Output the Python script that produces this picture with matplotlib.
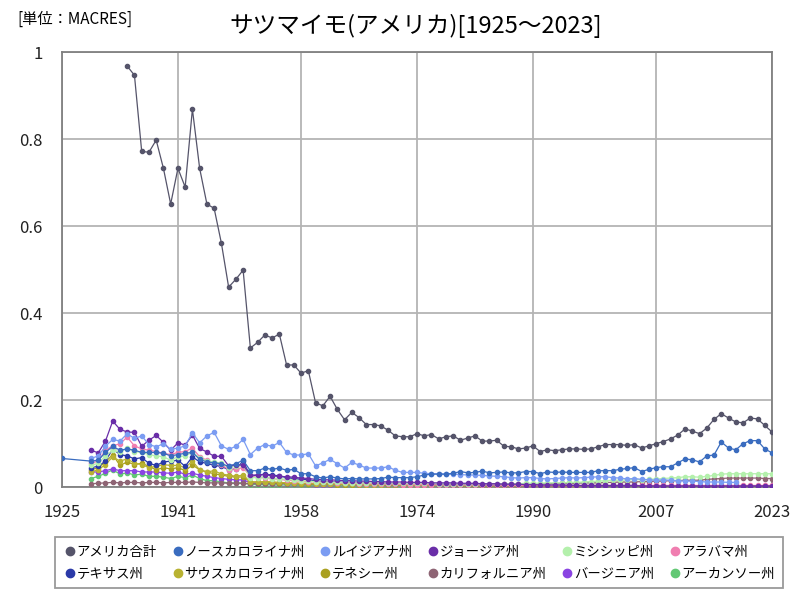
import numpy as np
import matplotlib
matplotlib.use("Agg")
import matplotlib.pyplot as plt
from matplotlib.lines import Line2D

plt.rcParams['font.family'] = ['Noto Sans CJK JP', 'DejaVu Sans']

N = None
years = list(range(1925, 2024))

total = [N, N, N, N, N,
         N, N, N, N, 0.968, 0.947, 0.772, 0.770, 0.798, 0.733,
         0.651, 0.733, 0.690, 0.869, 0.733, 0.651, 0.641, 0.561, 0.460, 0.478,
         0.499, 0.320, 0.333, 0.350, 0.343, 0.352, 0.281, 0.281, 0.262, 0.268,
         0.194, 0.187, 0.209, 0.179, 0.155, 0.172, 0.160, 0.144, 0.144, 0.141,
         0.131, 0.118, 0.116, 0.116, 0.123, 0.118, 0.121, 0.111, 0.116, 0.118,
         0.108, 0.113, 0.118, 0.106, 0.106, 0.108, 0.094, 0.093, 0.088, 0.090,
         0.095, 0.082, 0.086, 0.084, 0.086, 0.088, 0.088, 0.087, 0.088, 0.093,
         0.098, 0.098, 0.098, 0.096, 0.098, 0.090, 0.095, 0.100, 0.105, 0.111,
         0.120, 0.134, 0.129, 0.123, 0.136, 0.156, 0.169, 0.159, 0.150, 0.148,
         0.159, 0.157, 0.142, 0.127]

north_carolina = [0.066, N, N, N, 0.060,
                  0.062, 0.080, 0.094, 0.085, 0.088, 0.085, 0.080, 0.080, 0.080, 0.078,
                  0.072, 0.075, 0.078, 0.080, 0.064, 0.058, 0.056, 0.054, 0.048, 0.054,
                  0.062, 0.038, 0.038, 0.044, 0.041, 0.044, 0.039, 0.041, 0.031, 0.031,
                  0.024, 0.021, 0.024, 0.021, 0.019, 0.020, 0.019, 0.019, 0.019, 0.020,
                  0.023, 0.022, 0.022, 0.022, 0.024, 0.028, 0.030, 0.030, 0.030, 0.032,
                  0.036, 0.033, 0.034, 0.037, 0.033, 0.034, 0.035, 0.033, 0.033, 0.036,
                  0.036, 0.031, 0.035, 0.034, 0.035, 0.034, 0.034, 0.034, 0.034, 0.038,
                  0.038, 0.038, 0.041, 0.043, 0.045, 0.036, 0.041, 0.045, 0.047, 0.047,
                  0.056, 0.065, 0.063, 0.058, 0.072, 0.074, 0.104, 0.090, 0.086, 0.100,
                  0.107, 0.107, 0.088, 0.079]

louisiana = [N, N, N, N, 0.066,
             0.072, 0.094, 0.110, 0.106, 0.123, 0.112, 0.118, 0.098, 0.093, 0.100,
             0.087, 0.090, 0.095, 0.125, 0.102, 0.118, 0.126, 0.095, 0.087, 0.094,
             0.110, 0.075, 0.090, 0.098, 0.094, 0.103, 0.080, 0.074, 0.074, 0.077,
             0.049, 0.056, 0.064, 0.054, 0.044, 0.057, 0.051, 0.044, 0.044, 0.044,
             0.047, 0.039, 0.034, 0.034, 0.034, 0.032, 0.031, 0.031, 0.030, 0.030,
             0.029, 0.028, 0.028, 0.027, 0.026, 0.025, 0.024, 0.022, 0.021, 0.022,
             0.022, 0.020, 0.019, 0.020, 0.021, 0.022, 0.021, 0.022, 0.023, 0.024,
             0.024, 0.022, 0.021, 0.019, 0.020, 0.018, 0.017, 0.016, 0.017, 0.016,
             0.015, 0.014, 0.014, 0.013, 0.012, 0.012, 0.012, 0.011, 0.011, N,
             N, N, N, N]

georgia = [N, N, N, N, 0.085,
           0.079, 0.106, 0.152, 0.133, 0.127, 0.126, 0.094, 0.108, 0.119, 0.103,
           0.085, 0.102, 0.097, 0.120, 0.089, 0.081, 0.071, 0.071, 0.049, 0.051,
           0.051, 0.028, 0.028, 0.029, 0.026, 0.025, 0.024, 0.023, 0.021, 0.020,
           0.018, 0.017, 0.017, 0.016, 0.015, 0.015, 0.014, 0.014, 0.013, 0.013,
           0.012, 0.012, 0.012, 0.011, 0.011, 0.011, 0.010, 0.010, 0.010, 0.010,
           0.009, 0.009, 0.009, 0.008, 0.008, 0.008, 0.007, 0.007, 0.007, 0.006,
           0.006, 0.005, 0.005, 0.005, 0.005, 0.004, 0.004, 0.004, 0.004, 0.004,
           0.004, 0.004, 0.004, 0.004, 0.004, 0.003, 0.003, 0.003, 0.003, 0.003,
           0.003, 0.003, 0.003, 0.003, 0.003, 0.003, 0.003, 0.003, 0.003, 0.003,
           0.003, 0.003, 0.003, 0.003]

mississippi = [N, N, N, N, 0.050,
               0.055, 0.072, 0.085, 0.080, 0.090, 0.082, 0.080, 0.075, 0.072, 0.070,
               0.062, 0.070, 0.072, 0.080, 0.068, 0.060, 0.058, 0.055, 0.045, 0.048,
               0.050, 0.022, 0.022, 0.024, 0.020, 0.020, 0.018, 0.017, 0.015, 0.015,
               0.012, 0.012, 0.012, 0.011, 0.010, 0.010, 0.010, 0.010, 0.010, 0.010,
               0.010, 0.009, 0.009, 0.009, 0.009, 0.009, 0.009, 0.008, 0.008, 0.008,
               0.008, 0.008, 0.008, 0.008, 0.008, 0.008, 0.008, 0.008, 0.008, 0.009,
               0.009, 0.009, 0.010, 0.010, 0.010, 0.011, 0.011, 0.012, 0.013, 0.014,
               0.015, 0.016, 0.016, 0.017, 0.018, 0.017, 0.018, 0.019, 0.020, 0.021,
               0.022, 0.024, 0.024, 0.023, 0.025, 0.027, 0.030, 0.031, 0.031, 0.031,
               0.031, 0.031, 0.031, 0.031]

alabama = [N, N, N, N, 0.055,
           0.060, 0.085, 0.095, 0.100, 0.115, 0.095, 0.088, 0.085, 0.082, 0.078,
           0.075, 0.080, 0.082, 0.090, 0.070, 0.062, 0.055, 0.052, 0.040, 0.042,
           0.045, 0.025, 0.022, 0.022, 0.020, 0.018, 0.016, 0.015, 0.014, 0.013,
           0.012, 0.011, 0.011, 0.010, 0.009, 0.009, 0.008, 0.008, 0.008, 0.007,
           0.007, 0.007, 0.006, 0.006, 0.006, 0.006, 0.006, 0.005, 0.005, 0.005,
           0.005, 0.005, 0.005, 0.005, 0.005, 0.005, 0.004, 0.004, 0.004, 0.004,
           0.004, 0.004, 0.004, 0.004, 0.004, 0.004, 0.004, 0.004, 0.004, 0.004,
           0.004, 0.004, 0.004, 0.004, 0.004, 0.004, 0.004, 0.004, 0.004, 0.004,
           0.004, 0.004, 0.004, 0.004, 0.004, 0.004, 0.004, 0.004, 0.004, 0.004,
           0.004, 0.004, 0.004, 0.004]

texas = [N, N, N, N, 0.045,
         0.048, 0.060, 0.088, 0.075, 0.072, 0.065, 0.068, 0.055, 0.050, 0.058,
         0.060, 0.062, 0.048, 0.070, 0.058, 0.055, 0.050, 0.048, 0.040, 0.042,
         0.060, 0.025, 0.028, 0.030, 0.028, 0.026, 0.022, 0.020, 0.018, 0.017,
         0.014, 0.013, 0.013, 0.012, 0.011, 0.011, 0.010, 0.010, 0.009, 0.009,
         0.008, 0.008, 0.008, 0.007, 0.007, 0.007, 0.007, 0.006, 0.006, 0.006,
         0.006, 0.006, 0.006, 0.005, 0.005, 0.005, 0.005, 0.005, 0.004, 0.004,
         0.004, 0.004, 0.004, 0.004, 0.004, 0.004, 0.004, 0.003, 0.003, 0.003,
         0.003, 0.003, 0.003, 0.003, 0.003, 0.003, 0.003, 0.003, 0.003, 0.003,
         0.003, 0.003, 0.003, 0.003, 0.003, 0.003, 0.003, 0.003, 0.003, 0.003,
         0.003, 0.003, 0.003, 0.003]

south_carolina = [N, N, N, N, 0.035,
                  0.040, 0.052, 0.070, 0.060, 0.065, 0.055, 0.052, 0.045, 0.048, 0.052,
                  0.050, 0.050, 0.045, 0.060, 0.040, 0.035, 0.038, 0.030, 0.028, 0.025,
                  0.028, 0.012, 0.012, 0.013, 0.012, 0.011, 0.010, 0.010, 0.009, 0.009,
                  0.008, 0.008, 0.008, 0.007, 0.007, 0.007, 0.007, 0.006, 0.006, 0.006,
                  0.006, 0.006, 0.005, 0.005, 0.005, 0.005, 0.005, 0.005, 0.005, 0.005,
                  0.004, 0.004, 0.004, 0.004, 0.004, 0.004, 0.004, 0.004, 0.004, 0.004,
                  0.004, 0.004, 0.004, 0.004, 0.004, 0.003, 0.003, 0.003, 0.003, 0.003,
                  0.003, 0.003, 0.003, 0.003, 0.003, 0.003, 0.003, 0.003, 0.003, 0.003,
                  0.003, 0.003, 0.003, 0.003, 0.003, 0.003, 0.003, 0.003, 0.003, 0.003,
                  0.003, 0.003, 0.003, 0.003]

tennessee = [N, N, N, N, 0.040,
             0.045, 0.058, 0.075, 0.050, 0.058, 0.052, 0.055, 0.048, 0.040, 0.045,
             0.042, 0.045, 0.038, 0.051, 0.040, 0.035, 0.031, 0.028, 0.025, 0.023,
             0.024, 0.012, 0.012, 0.012, 0.011, 0.010, 0.009, 0.009, 0.008, 0.008,
             0.007, 0.007, 0.007, 0.006, 0.006, 0.006, 0.006, 0.005, 0.005, 0.005,
             0.005, 0.005, 0.004, 0.004, 0.004, 0.004, 0.004, 0.004, 0.004, 0.004,
             0.003, 0.003, 0.003, 0.003, 0.003, 0.003, 0.003, 0.003, 0.003, 0.003,
             0.003, 0.003, 0.003, 0.003, 0.003, 0.003, 0.003, 0.003, 0.003, 0.003,
             0.002, 0.002, 0.002, 0.002, 0.002, 0.002, 0.002, 0.002, 0.002, 0.002,
             0.002, 0.002, 0.002, 0.002, 0.002, 0.002, 0.002, 0.002, 0.002, 0.002,
             0.002, 0.002, 0.002, 0.002]

california = [N, N, N, N, 0.008,
              0.009, 0.010, 0.011, 0.010, 0.011, 0.011, 0.010, 0.011, 0.011, 0.010,
              0.011, 0.011, 0.011, 0.012, 0.011, 0.010, 0.010, 0.010, 0.009, 0.009,
              0.009, 0.008, 0.008, 0.008, 0.008, 0.008, 0.008, 0.008, 0.008, 0.008,
              0.007, 0.007, 0.007, 0.007, 0.007, 0.007, 0.007, 0.007, 0.007, 0.007,
              0.006, 0.006, 0.006, 0.006, 0.006, 0.006, 0.006, 0.006, 0.006, 0.006,
              0.006, 0.006, 0.006, 0.006, 0.006, 0.006, 0.007, 0.007, 0.007, 0.007,
              0.007, 0.008, 0.008, 0.008, 0.009, 0.009, 0.009, 0.010, 0.010, 0.010,
              0.011, 0.011, 0.012, 0.012, 0.012, 0.013, 0.013, 0.014, 0.014, 0.015,
              0.015, 0.016, 0.016, 0.016, 0.018, 0.019, 0.020, 0.021, 0.021, 0.021,
              0.021, 0.021, 0.020, 0.020]

virginia = [N, N, N, N, 0.035,
            0.035, 0.038, 0.042, 0.038, 0.038, 0.038, 0.035, 0.035, 0.035, 0.033,
            0.032, 0.035, 0.030, 0.032, 0.028, 0.025, 0.022, 0.020, 0.018, 0.017,
            0.017, 0.010, 0.010, 0.010, 0.009, 0.009, 0.008, 0.008, 0.007, 0.007,
            0.006, 0.006, 0.006, 0.006, 0.006, 0.005, 0.005, 0.005, 0.005, 0.005,
            0.005, 0.005, 0.005, 0.004, 0.004, 0.004, 0.004, 0.004, 0.004, 0.004,
            0.004, 0.004, 0.004, 0.004, 0.004, 0.003, 0.003, 0.003, 0.003, 0.003,
            0.003, 0.003, 0.003, 0.003, 0.003, 0.003, 0.003, 0.003, 0.003, 0.003,
            0.003, 0.003, 0.003, 0.003, 0.003, 0.003, 0.003, 0.003, 0.003, 0.003,
            0.003, 0.003, 0.003, 0.003, 0.003, 0.003, 0.003, 0.003, 0.003, 0.003,
            0.003, 0.003, 0.003, 0.003]

arkansas = [N, N, N, N, 0.020,
            0.025, 0.032, 0.040, 0.030, 0.033, 0.028, 0.030, 0.025, 0.025, 0.023,
            0.020, 0.025, 0.022, 0.028, 0.020, 0.015, 0.015, 0.012, 0.010, 0.010,
            0.010, 0.006, 0.006, 0.006, 0.005, 0.005, 0.005, 0.004, 0.004, 0.004,
            0.004, 0.004, 0.004, 0.004, 0.003, 0.003, 0.003, 0.003, 0.003, 0.003,
            0.003, 0.003, 0.003, 0.003, 0.003, 0.003, 0.003, 0.003, 0.003, 0.003,
            0.003, 0.003, 0.003, 0.003, 0.003, 0.003, 0.003, 0.003, 0.003, 0.003,
            0.003, 0.003, 0.003, 0.003, 0.003, 0.003, 0.003, 0.003, 0.003, 0.003,
            0.003, 0.003, 0.003, 0.003, 0.003, 0.003, 0.003, 0.003, 0.003, 0.003,
            0.003, 0.003, 0.003, 0.003, 0.003, 0.003, 0.003, 0.003, 0.003, 0.003,
            0.003, 0.003, 0.003, 0.003]

names = ["アメリカ合計", "ノースカロライナ州", "ルイジアナ州", "ジョージア州", "ミシシッピ州", "アラバマ州",
         "テキサス州", "サウスカロライナ州", "テネシー州", "カリフォルニア州", "バージニア州", "アーカンソー州"]
series = [total, north_carolina, louisiana, georgia, mississippi, alabama,
          texas, south_carolina, tennessee, california, virginia, arkansas]
colors = ["#55546a", "#3a6cbf", "#7b9cf2", "#6a2ea8", "#b4f0ac", "#f07eb0",
          "#2b3aa8", "#b8b232", "#aaa020", "#8e6474", "#8a44e2", "#62c874"]

xticks = [1925, 1941, 1958, 1974, 1990, 2007, 2023]
yticks = [0, 0.2, 0.4, 0.6, 0.8, 1]

fig = plt.figure(figsize=(8, 6), dpi=100)
ax = fig.add_axes([0.0775, 0.188, 0.8875, 0.725])

x = np.array(years)
# draw small series first, total on top
order = list(range(len(series)))[::-1]
for i in order:
    y = np.array([np.nan if v is None else v for v in series[i]], dtype=float)
    mask = ~np.isnan(y)
    ax.plot(x[mask], y[mask], color=colors[i], lw=0.9, marker='o', ms=3.0,
            zorder=3 + (len(series) - i) * 0.01)

ax.set_xlim(1925, 2023)
ax.set_ylim(0, 1)
ax.set_xticks(xticks)
ax.set_xticklabels([str(t) for t in xticks])
ax.set_yticks(yticks)
ax.set_yticklabels(["0", "0.2", "0.4", "0.6", "0.8", "1"])
ax.tick_params(labelsize=12, length=0, colors="#222222")
ax.tick_params(axis='x', pad=12)
ax.tick_params(axis='y', pad=14)
ax.grid(True, color="#b4b4b4", lw=1.3)
ax.set_axisbelow(True)
for s in ax.spines.values():
    s.set_color("#808080")
    s.set_linewidth(1.3)

fig.text(0.52, 0.957, "サツマイモ(アメリカ)[1925～2023]", ha='center', va='center', fontsize=17)
fig.text(0.022, 0.968, "[単位：MACRES]", ha='left', va='center', fontsize=11)

handles = [Line2D([], [], ls='none', marker='o', ms=6, color=c) for c in colors]
# legend fills by column, reorder so rows read left to right
idx = []
for c in range(6):
    idx += [c, c + 6]
leg = fig.legend([handles[i] for i in idx], [names[i] for i in idx],
                 ncol=6, loc='center', bbox_to_anchor=(0.524, 0.062),
                 fontsize=9.6, frameon=True, fancybox=False, handletextpad=0.0,
                 columnspacing=1.05, handlelength=1.0, borderpad=0.6, labelspacing=0.55)
leg.get_frame().set_edgecolor("#808080")
leg.get_frame().set_linewidth(1.3)

fig.savefig("out.png", dpi=100)
